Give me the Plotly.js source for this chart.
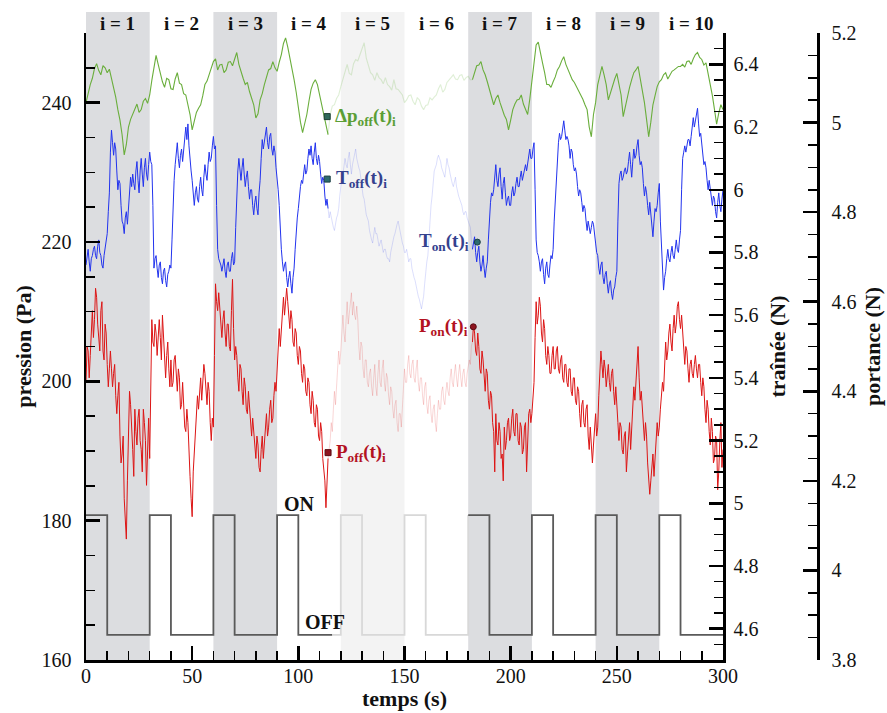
<!DOCTYPE html>
<html>
<head>
<meta charset="utf-8">
<script src="https://cdn.plot.ly/plotly-3.0.1.min.js"></script>
<style>html,body{margin:0;padding:0;background:#fff;}#chart{width:887px;height:713px;}</style>
</head>
<body>
<div id="chart"></div>
<script>
// time axis (s): whole seconds 0..300
const temps = Array.from({length: 301}, (_, k) => k);

// Δp (Pa) – green, left axis, at whole seconds
const deltaP = [
240.0,241.5,242.6,243.5,244.9,245.6,244.6,244.0,245.3,245.0,
244.3,244.8,243.6,242.4,240.8,239.0,237.5,235.4,232.5,234.0,
236.5,237.6,238.3,238.9,239.8,238.6,239.0,240.2,240.6,239.9,
241.1,243.2,244.8,246.8,245.5,244.0,243.0,242.2,243.5,243.3,
242.0,241.9,243.4,244.3,242.8,242.6,241.3,241.1,239.7,238.3,
236.1,237.2,238.6,239.2,239.7,241.0,242.6,243.1,244.0,244.9,
245.9,246.3,244.7,245.4,245.5,244.3,244.7,245.8,245.9,245.3,
246.2,247.2,245.5,244.3,243.5,242.6,242.9,241.6,240.8,239.7,
237.8,238.4,240.4,241.3,242.6,243.7,244.7,244.9,245.9,245.0,
244.5,245.8,246.9,248.5,249.3,248.0,246.6,244.8,243.3,241.5,
239.0,237.2,235.7,237.0,238.3,240.2,241.9,242.8,243.3,242.6,
241.1,239.9,238.3,237.0,235.4,238.3,239.5,239.7,240.6,241.1,
242.3,243.3,244.4,245.5,244.2,244.0,245.6,246.2,246.0,246.9,
247.5,248.6,246.4,245.5,244.3,244.0,243.2,244.3,243.6,243.3,
242.7,243.6,242.6,242.3,241.8,243.3,242.0,241.9,241.5,241.1,
240.0,240.4,241.0,241.1,240.2,239.7,240.7,240.4,239.5,239.0,
239.6,239.7,240.7,240.4,240.8,241.1,242.0,242.6,241.5,241.9,
242.9,243.3,243.6,244.0,243.4,243.3,243.9,244.0,243.2,243.6,
243.8,243.3,243.3,244.5,245.3,245.4,245.9,244.7,244.0,243.0,
241.9,240.9,239.7,240.6,241.1,240.0,239.0,238.2,237.6,236.1,
237.5,239.0,239.8,240.4,240.5,241.1,239.8,239.0,238.3,240.5,
243.3,246.0,248.3,248.7,247.0,245.7,244.3,242.6,242.6,242.2,
243.0,243.7,244.7,245.2,246.0,246.6,245.5,244.7,244.0,243.3,
242.9,242.3,241.8,241.1,240.5,239.7,239.0,236.5,235.1,238.3,
240.0,242.6,244.0,245.2,244.0,242.6,240.4,241.5,242.6,243.4,
244.2,242.5,241.1,238.0,239.5,241.1,242.2,243.3,244.3,244.7,
245.2,243.5,241.9,240.0,237.6,235.1,237.2,239.7,241.0,242.3,
243.0,243.3,244.0,244.3,243.4,244.0,244.5,244.7,245.0,245.2,
245.2,245.5,245.1,245.9,246.0,245.5,246.3,246.9,247.2,246.5,
246.2,245.4,245.7,244.2,242.6,241.0,239.0,236.9,238.5,239.7,239.0
];

// traînée T (N) – blue, at whole seconds
const trainee = [
5.76,5.81,5.74,5.79,5.82,5.78,5.84,5.79,5.75,5.81,
5.86,5.99,6.19,6.11,6.13,6.00,6.02,5.90,5.86,5.93,
5.94,6.04,6.05,6.00,6.09,5.99,6.10,6.01,6.10,6.03,
6.12,6.08,5.75,5.79,5.72,5.77,5.70,5.75,5.69,5.74,
5.75,5.95,6.08,6.15,6.07,6.13,6.12,6.20,6.21,6.08,
6.03,5.95,6.01,5.96,6.04,5.98,6.08,6.03,6.12,6.10,
6.17,6.14,5.81,5.77,5.74,5.78,5.72,5.77,5.74,5.80,
5.77,6.00,6.10,6.03,6.10,6.01,6.06,5.97,6.00,5.92,
5.98,5.92,6.03,6.16,6.15,6.20,6.13,6.18,6.11,6.12,
6.04,5.95,5.81,5.74,5.77,5.69,5.74,5.67,5.75,5.87,
5.94,6.01,6.02,6.08,6.06,6.13,6.14,6.08,6.15,6.08,
6.09,6.02,6.03,5.95,5.94,5.93,5.89,5.87,5.91,5.94,
6.02,6.05,6.10,6.07,6.12,6.05,6.10,6.13,6.08,6.06,
6.00,5.97,5.92,5.90,5.85,5.83,5.88,5.86,5.82,5.84,
5.80,5.81,5.78,5.77,5.82,5.85,5.88,5.90,5.86,5.83,
5.80,5.81,5.77,5.78,5.73,5.71,5.67,5.65,5.62,5.66,
5.74,5.79,5.92,5.98,6.06,6.08,6.11,6.09,6.06,6.04,
6.10,6.07,6.03,6.01,6.04,5.99,5.97,5.95,5.92,5.93,
5.90,5.88,5.81,5.85,5.77,5.82,5.74,5.79,5.72,5.77,
5.92,5.99,6.00,6.08,6.01,6.07,5.97,6.04,5.95,5.98,
5.95,6.01,5.99,6.04,6.01,6.06,6.05,6.08,6.08,6.13,
6.10,6.15,5.84,5.79,5.74,5.78,5.70,5.77,5.72,5.79,
5.81,5.97,6.10,6.18,6.17,6.22,6.16,6.16,6.10,6.12,
6.06,6.05,5.98,5.99,5.93,5.94,5.87,5.88,5.88,5.89,
5.83,5.79,5.73,5.77,5.70,5.74,5.67,5.71,5.65,5.69,
5.74,6.02,6.06,6.04,6.07,6.06,6.12,6.04,6.13,6.11,
6.16,6.08,6.07,5.98,5.99,5.92,5.92,5.85,5.94,5.95,
6.02,5.81,5.68,5.74,5.81,5.77,5.82,5.78,5.84,5.80,
5.87,6.10,6.14,6.14,6.16,6.17,6.23,6.22,6.26,6.17,
6.15,6.08,6.07,6.00,6.00,5.95,5.97,5.91,5.99,5.93,6.00
];
// traînée T (N) at half seconds (k + 0.5, k = 0..299)
const traineeHalf = [
5.79,5.77,5.78,5.81,5.79,5.82,5.80,5.76,5.79,5.84,
5.93,6.12,6.15,6.15,6.06,6.03,5.95,5.89,5.91,5.89,
6.00,6.01,6.02,6.06,6.03,6.06,6.05,6.07,6.05,6.08,
6.09,5.95,5.78,5.75,5.76,5.72,5.74,5.71,5.73,5.76,
5.84,6.03,6.11,6.10,6.11,6.09,6.17,6.16,6.14,6.06,
5.98,5.99,5.97,6.01,6.00,6.04,6.05,6.08,6.09,6.14,
6.13,5.95,5.78,5.76,5.77,5.74,5.76,5.74,5.78,5.76,
5.88,6.06,6.05,6.07,6.05,6.04,6.01,6.00,5.95,5.96,
5.94,5.99,6.10,6.13,6.18,6.15,6.17,6.13,6.14,6.07,
6.00,5.87,5.77,5.76,5.72,5.72,5.70,5.72,5.81,5.91,
5.98,6.03,6.05,6.05,6.10,6.11,6.10,6.12,6.10,6.11,
6.05,6.04,5.98,5.97,5.91,5.91,5.88,5.90,5.92,5.98,
6.04,6.08,6.08,6.10,6.08,6.08,6.12,6.10,6.07,6.03,
5.98,5.94,5.91,5.87,5.84,5.86,5.86,5.84,5.83,5.82,
5.81,5.79,5.78,5.80,5.84,5.86,5.89,5.88,5.84,5.82,
5.80,5.79,5.78,5.75,5.72,5.69,5.66,5.63,5.64,5.70,
5.77,5.85,5.95,6.02,6.07,6.10,6.10,6.07,6.05,6.07,
6.08,6.05,6.02,6.03,6.01,5.98,5.96,5.93,5.93,5.91,
5.89,5.84,5.83,5.80,5.80,5.77,5.76,5.75,5.75,5.84,
5.96,5.98,6.05,6.03,6.05,6.01,6.02,5.99,5.97,5.95,
5.99,5.98,6.02,6.01,6.04,6.03,6.07,6.06,6.11,6.10,
6.13,6.00,5.80,5.77,5.77,5.73,5.75,5.73,5.76,5.78,
5.90,6.04,6.15,6.16,6.20,6.19,6.17,6.14,6.13,6.08,
6.07,6.01,6.00,5.96,5.95,5.90,5.90,5.86,5.90,5.85,
5.80,5.75,5.76,5.72,5.73,5.70,5.70,5.67,5.68,5.72,
5.90,6.05,6.03,6.06,6.05,6.09,6.08,6.09,6.10,6.14,
6.11,6.09,6.02,6.01,5.95,5.96,5.88,5.90,5.93,5.99,
5.90,5.73,5.72,5.78,5.78,5.80,5.79,5.81,5.81,5.84,
6.00,6.12,6.12,6.16,6.14,6.20,6.20,6.25,6.21,6.18,
6.11,6.09,6.03,6.03,5.97,5.98,5.93,5.96,5.95,5.97
];

// portance P (N) – red, at whole seconds
const portance = [
4.42,4.49,4.48,4.58,4.56,4.61,4.51,4.58,4.49,4.55,
4.46,4.45,4.45,4.44,4.39,4.39,4.30,4.26,4.16,4.07,
4.31,4.37,4.27,4.36,4.28,4.36,4.27,4.36,4.29,4.30,
4.25,4.56,4.50,4.53,4.51,4.52,4.57,4.47,4.48,4.45,
4.47,4.42,4.48,4.40,4.43,4.37,4.38,4.31,4.33,4.21,
4.12,4.27,4.35,4.36,4.43,4.42,4.44,4.37,4.40,4.29,
4.32,4.64,4.58,4.58,4.52,4.58,4.50,4.55,4.49,4.65,
4.47,4.48,4.40,4.45,4.37,4.41,4.35,4.37,4.30,4.31,
4.25,4.28,4.22,4.30,4.29,4.35,4.32,4.38,4.34,4.42,
4.44,4.54,4.54,4.61,4.60,4.60,4.54,4.56,4.50,4.53,
4.46,4.49,4.42,4.45,4.39,4.42,4.35,4.38,4.32,4.36,
4.29,4.31,4.23,4.14,4.25,4.29,4.31,4.40,4.40,4.49,
4.49,4.57,4.51,4.60,4.58,4.62,4.60,4.56,4.56,4.47,
4.50,4.43,4.47,4.41,4.45,4.39,4.46,4.39,4.47,4.41,
4.47,4.40,4.43,4.37,4.40,4.34,4.38,4.31,4.35,4.36,
4.45,4.42,4.48,4.43,4.47,4.42,4.47,4.40,4.43,4.37,
4.42,4.35,4.39,4.33,4.37,4.31,4.38,4.36,4.41,4.37,
4.42,4.39,4.45,4.41,4.46,4.41,4.46,4.41,4.45,4.41,
4.46,4.46,4.51,4.53,4.48,4.50,4.44,4.47,4.40,4.44,
4.36,4.39,4.31,4.35,4.28,4.31,4.26,4.32,4.29,4.34,
4.30,4.36,4.30,4.35,4.28,4.32,4.27,4.33,4.30,4.36,
4.35,4.42,4.60,4.57,4.59,4.51,4.54,4.46,4.48,4.44,
4.50,4.45,4.50,4.44,4.48,4.42,4.46,4.41,4.45,4.39,
4.43,4.37,4.40,4.32,4.38,4.32,4.37,4.27,4.28,4.28,
4.35,4.32,4.45,4.46,4.47,4.41,4.46,4.40,4.45,4.37,
4.38,4.29,4.32,4.26,4.31,4.26,4.33,4.33,4.41,4.42,
4.50,4.38,4.36,4.29,4.30,4.21,4.20,4.26,4.25,4.33,
4.32,4.39,4.40,4.51,4.49,4.55,4.49,4.57,4.55,4.60,
4.54,4.54,4.46,4.49,4.42,4.47,4.43,4.48,4.43,4.46,
4.39,4.41,4.33,4.36,4.28,4.31,4.25,4.29,4.22,4.33,4.27
];
// portance P (N) at half seconds (k + 0.5, k = 0..299)
const portanceHalf = [
4.50,4.43,4.55,4.52,4.63,4.55,4.49,4.60,4.47,4.53,
4.41,4.49,4.41,4.46,4.35,4.42,4.24,4.30,4.10,4.20,
4.40,4.30,4.21,4.31,4.34,4.29,4.22,4.33,4.19,4.34,
4.40,4.51,4.55,4.48,4.56,4.47,4.52,4.43,4.51,4.41,
4.41,4.47,4.42,4.45,4.36,4.42,4.32,4.36,4.25,4.16,
4.22,4.31,4.39,4.40,4.38,4.46,4.40,4.42,4.33,4.34,
4.48,4.60,4.62,4.54,4.56,4.53,4.55,4.50,4.58,4.54,
4.50,4.43,4.46,4.40,4.43,4.36,4.40,4.32,4.34,4.27,
4.30,4.23,4.27,4.25,4.33,4.30,4.36,4.33,4.39,4.40,
4.50,4.50,4.58,4.57,4.63,4.56,4.58,4.51,4.54,4.48,
4.50,4.44,4.46,4.40,4.43,4.37,4.40,4.33,4.37,4.30,
4.33,4.25,4.20,4.22,4.27,4.33,4.36,4.37,4.45,4.46,
4.54,4.53,4.56,4.55,4.61,4.57,4.57,4.59,4.50,4.51,
4.45,4.47,4.42,4.44,4.41,4.43,4.41,4.44,4.42,4.45,
4.42,4.44,4.39,4.41,4.36,4.37,4.33,4.35,4.32,4.41,
4.42,4.46,4.44,4.46,4.43,4.45,4.42,4.43,4.39,4.41,
4.37,4.38,4.35,4.36,4.33,4.35,4.36,4.40,4.38,4.40,
4.40,4.43,4.42,4.44,4.43,4.44,4.43,4.44,4.42,4.44,
4.47,4.50,4.55,4.49,4.53,4.45,4.49,4.42,4.45,4.38,
4.40,4.33,4.22,4.29,4.33,4.25,4.20,4.27,4.33,4.29,
4.34,4.31,4.35,4.29,4.33,4.26,4.32,4.22,4.35,4.33,
4.40,4.52,4.55,4.61,4.53,4.56,4.48,4.50,4.44,4.48,
4.45,4.49,4.45,4.47,4.43,4.46,4.42,4.45,4.40,4.43,
4.38,4.41,4.35,4.37,4.33,4.36,4.30,4.32,4.24,4.33,
4.30,4.39,4.49,4.43,4.45,4.44,4.42,4.44,4.40,4.41,
4.33,4.33,4.27,4.30,4.22,4.30,4.27,4.37,4.38,4.46,
4.43,4.40,4.31,4.33,4.24,4.17,4.24,4.21,4.29,4.30,
4.36,4.42,4.46,4.47,4.53,4.51,4.54,4.53,4.59,4.56,
4.57,4.49,4.50,4.45,4.46,4.44,4.46,4.45,4.46,4.42,
4.43,4.36,4.38,4.31,4.34,4.24,4.30,4.18,4.29,4.23
];

// ON/OFF actuation state (left axis levels, Pa)
const waveSwitchTimes = [0,10,30,40,60,70,90,100,120,130,150,160,180,190,210,220,240,250,270,280];
const waveStates      = [1,0,1,0,1,0,1,0,1,0,1,0,1,0,1,0,1,0,1,0];
const levelOn = 180.8, levelOff = 163.6;

// cycles i = 1..10
const cycleLabels = ['i = 1','i = 2','i = 3','i = 4','i = 5','i = 6','i = 7','i = 8','i = 9','i = 10'];
const cycleStarts = [0,30,60,90,120,150,180,210,240,270];
const cycleShaded = [true,false,true,false,true,false,true,false,true,false];
const cycleFaded  = [false,false,false,false,true,true,false,false,false,false];

// faded (non-selected) interval
const fadeStart = 114, fadeEnd = 182;
const waveFadeStart = 116, waveFadeEnd = 180;

// highlighted points
const ptDpOff = {t: 113.6, v: 238.0};
const ptTOff  = {t: 113.6, v: 6.034};
const ptTOn   = {t: 184.3, v: 5.833};
const ptPOn   = {t: 182.4, v: 4.544};
const ptPOff  = {t: 114.0, v: 4.263};

// merge whole-second and half-second samples
function merge(whole, half) {
  const x = [], y = [];
  for (let k = 0; k < whole.length; k++) {
    x.push(temps[k]); y.push(whole[k]);
    if (half && k < half.length) { x.push(temps[k] + 0.5); y.push(half[k]); }
  }
  return {x, y};
}
function segment(series, a, b) {
  const x = [], y = [];
  series.x.forEach((t, k) => { if (t >= a && t <= b) { x.push(t); y.push(series.y[k]); } });
  return {x, y};
}
function stateAt(t) {
  let s = waveStates[0];
  for (let k = 0; k < waveSwitchTimes.length; k++) if (waveSwitchTimes[k] <= t) s = waveStates[k];
  return s;
}
function lvl(s) { return s ? levelOn : levelOff; }
function waveSeg(a, b) {
  const x = [a], y = [lvl(stateAt(a))];
  waveSwitchTimes.forEach((s, k) => { if (s > a && s < b) { x.push(s); y.push(lvl(waveStates[k])); } });
  x.push(b); y.push(lvl(stateAt(b >= 300 ? 299 : b)));
  return {x, y};
}

const GREEN = '#6aae3c', BLUE = '#2233ee', RED = '#dc1515';
const GREEN_F = 'rgba(110,180,70,0.22)', BLUE_F = 'rgba(60,80,240,0.18)', RED_F = 'rgba(225,50,50,0.2)';

const traces = [];
function addSeries(series, yax, col, colF, w) {
  [[0, fadeStart, col], [fadeStart, fadeEnd, colF], [fadeEnd, 300, col]].forEach(p => {
    const s = segment(series, p[0], p[1]);
    traces.push({x: s.x, y: s.y, yaxis: yax, type: 'scatter', mode: 'lines',
      line: {color: p[2], width: w}, hoverinfo: 'skip', showlegend: false});
  });
}
// square wave
[[0, waveFadeStart, '#5a5a5a'], [waveFadeStart, waveFadeEnd, '#d8d8d8'], [waveFadeEnd, 300, '#5a5a5a']].forEach(p => {
  const w = waveSeg(p[0], p[1]);
  traces.push({x: w.x, y: w.y, yaxis: 'y', type: 'scatter', mode: 'lines',
    line: {color: p[2], width: 1.8, shape: 'hv'}, hoverinfo: 'skip', showlegend: false});
});
addSeries(merge(deltaP, null), 'y', GREEN, GREEN_F, 1.1);
addSeries(merge(trainee, traineeHalf), 'y2', BLUE, BLUE_F, 1.0);
addSeries(merge(portance, portanceHalf), 'y3', RED, RED_F, 1.0);

// highlighted markers
traces.push({x: [ptDpOff.t], y: [ptDpOff.v], yaxis: 'y', mode: 'markers', type: 'scatter',
  marker: {symbol: 'square', size: 6, color: '#2f6a5a', line: {color: '#1d3d33', width: 1}}, showlegend: false, hoverinfo: 'skip'});
traces.push({x: [ptTOff.t, ptTOn.t], y: [ptTOff.v, ptTOn.v], yaxis: 'y2', mode: 'markers', type: 'scatter',
  marker: {symbol: ['square', 'circle'], size: 6, color: '#2d6b6e', line: {color: '#1b3f44', width: 1}}, showlegend: false, hoverinfo: 'skip'});
traces.push({x: [ptPOn.t, ptPOff.t], y: [ptPOn.v, ptPOff.v], yaxis: 'y3', mode: 'markers', type: 'scatter',
  marker: {symbol: ['circle', 'square'], size: 6, color: '#8e1520', line: {color: '#5a0c12', width: 1}}, showlegend: false, hoverinfo: 'skip'});

const FONT = 'Liberation Serif, Times New Roman, serif';

const shapes = [];
cycleStarts.forEach((s, k) => {
  if (!cycleShaded[k]) return;
  shapes.push({type: 'rect', xref: 'x', yref: 'paper', x0: s, x1: s + 30, y0: 0, y1: 1.0335,
    fillcolor: cycleFaded[k] ? '#f3f3f3' : '#dcdde0', line: {width: 0}, layer: 'below'});
});

const annotations = [];
cycleStarts.forEach((s, k) => {
  annotations.push({x: s + 15, xref: 'x', y: 1.0144, yref: 'paper', yanchor: 'middle', xanchor: 'center',
    text: '<b>' + cycleLabels[k] + '</b>', showarrow: false, font: {family: FONT, size: 19, color: '#111'}});
});
annotations.push({x: 100.4, xref: 'x', y: 182.4, yref: 'y', text: '<b>ON</b>', showarrow: false,
  font: {family: FONT, size: 20, color: '#111'}});
annotations.push({x: 112.6, xref: 'x', y: 165.5, yref: 'y', text: '<b>OFF</b>', showarrow: false,
  font: {family: FONT, size: 20, color: '#111'}});
annotations.push({x: 116.2, xref: 'x', y: ptDpOff.v, yref: 'y', xanchor: 'left', yanchor: 'middle',
  text: '<b>Δp<sub>off</sub>(t)<sub>i</sub></b>', showarrow: false, font: {family: FONT, size: 19, color: '#5b9e35'}});
annotations.push({x: 117.0, xref: 'x', y: ptTOff.v, yref: 'y2', xanchor: 'left', yanchor: 'middle',
  text: '<b>T<sub>off</sub>(t)<sub>i</sub></b>', showarrow: false, font: {family: FONT, size: 19, color: '#34418e'}});
annotations.push({x: 181.2, xref: 'x', y: ptTOn.v, yref: 'y2', xanchor: 'right', yanchor: 'middle',
  text: '<b>T<sub>on</sub>(t)<sub>i</sub></b>', showarrow: false, font: {family: FONT, size: 19, color: '#34418e'}});
annotations.push({x: 181.0, xref: 'x', y: ptPOn.v, yref: 'y3', xanchor: 'right', yanchor: 'middle',
  text: '<b>P<sub>on</sub>(t)<sub>i</sub></b>', showarrow: false, font: {family: FONT, size: 19, color: '#b3121f'}});
annotations.push({x: 117.0, xref: 'x', y: ptPOff.v, yref: 'y3', xanchor: 'left', yanchor: 'middle',
  text: '<b>P<sub>off</sub>(t)<sub>i</sub></b>', showarrow: false, font: {family: FONT, size: 19, color: '#b3121f'}});

const tickFont = {family: FONT, size: 20, color: '#111'};
const titleFont = {family: FONT, size: 22, color: '#111'};
function axisCommon(extra) {
  return Object.assign({
    showgrid: false, zeroline: false, showline: true, linecolor: '#000', linewidth: 2.5,
    ticks: 'inside', ticklen: 14, tickwidth: 2.5, tickcolor: '#000', tickfont: tickFont,
    ticklabelstandoff: 8
  }, extra);
}

const layout = {
  width: 887, height: 713,
  margin: {l: 86, r: 69, t: 33, b: 53},
  paper_bgcolor: '#fff', plot_bgcolor: 'rgba(0,0,0,0)',
  showlegend: false,
  xaxis: axisCommon({domain: [0, 637 / 732], range: [0, 300], dtick: 50, tick0: 0, ticklabelstandoff: -4,
    minor: {dtick: 10, ticks: 'inside', ticklen: 9, tickwidth: 1.5, tickcolor: '#000'},
    title: {text: '<b>temps (s)</b>', font: titleFont, standoff: 5}}),
  yaxis: axisCommon({range: [160, 250], dtick: 20, tick0: 0,
    minor: {dtick: 5, ticks: 'inside', ticklen: 9, tickwidth: 1.5, tickcolor: '#000'},
    title: {text: '<b>pression (Pa)</b>', font: titleFont, standoff: 4}}),
  yaxis2: axisCommon({overlaying: 'y', side: 'right', anchor: 'x', range: [4.5, 6.5], dtick: 0.2, tick0: 0, ticklabelstandoff: 4,
    minor: {dtick: 0.05, ticks: 'inside', ticklen: 9, tickwidth: 1.5, tickcolor: '#000'},
    title: {text: '<b>traînée (N)</b>', font: titleFont, standoff: 12}}),
  yaxis3: axisCommon({overlaying: 'y', side: 'right', anchor: 'free', position: 1, range: [3.8, 5.2], dtick: 0.2, tick0: 0,
    minor: {dtick: 0.05, ticks: 'inside', ticklen: 9, tickwidth: 1.5, tickcolor: '#000'},
    title: {text: '<b>portance (N)</b>', font: titleFont, standoff: 8}}),
  shapes: shapes,
  annotations: annotations
};

Plotly.newPlot('chart', traces, layout, {staticPlot: true, displayModeBar: false});
</script>
</body>
</html>
